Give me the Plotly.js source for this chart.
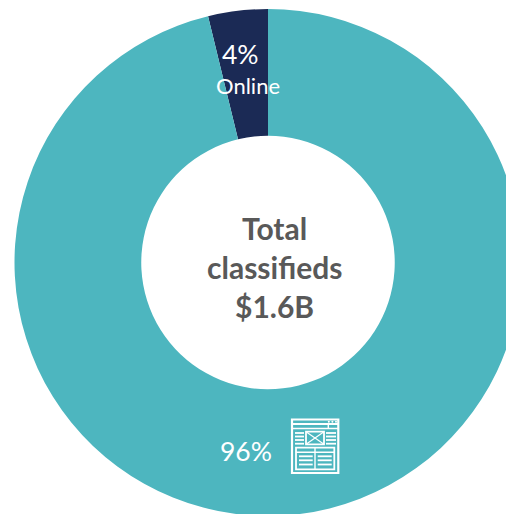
<!DOCTYPE html>
<html>
<head>
<meta charset="utf-8">
<script src="https://cdn.plot.ly/plotly-3.0.1.min.js"></script>
<style>html,body{margin:0;padding:0;width:506px;height:514px;overflow:hidden;background:#fff}</style>
</head>
<body>
<div id="chart"></div>
<script>
var categories = ["Online", "Print"];
var shares = [3.8, 96.2];
var sliceColors = ["#1B2A55", "#4DB6BF"];
var centerLines = ["Total", "classifieds", "$1.6B"];

var W = 536, H = 526;
var cx = 268, cy = 262.5, R = 253.5;
function px(x){ return x / W; }
function py(y){ return 1 - y / H; }
function line(x0, y0, x1, y1, w){
  return {type:"line", xref:"paper", yref:"paper", x0:px(x0), y0:py(y0), x1:px(x1), y1:py(y1),
          line:{color:"#fff", width:w || 1.8}};
}
function rect(x0, y0, x1, y1, w){
  return {type:"rect", xref:"paper", yref:"paper", x0:px(x0), y0:py(y0), x1:px(x1), y1:py(y1),
          line:{color:"#fff", width:w || 1.8}};
}
function dot(x, y){
  return {type:"circle", xref:"paper", yref:"paper", x0:px(x-1), y0:py(y-1), x1:px(x+1), y1:py(y+1),
          fillcolor:"#fff", line:{width:0}};
}
var icon = [
  rect(292, 419.5, 338.3, 473, 2.2),
  line(292, 424, 338.3, 424, 1.8),
  line(292, 428.5, 338.3, 428.5, 1.4),
  line(328.3, 424, 328.3, 428.5, 1.4),
  dot(328.8, 421.7), dot(332.4, 421.7), dot(336, 421.7),
  rect(306, 431.7, 324, 444.3, 1.8),
  line(306, 431.7, 324, 444.3, 1.2), line(324, 431.7, 306, 444.3, 1.2),
  line(295, 433, 304, 433), line(295, 436.5, 304, 436.5), line(295, 440, 304, 440), line(295, 443.7, 304, 443.7),
  line(326, 433, 336, 433), line(326, 436.5, 336, 436.5), line(326, 440, 336, 440), line(326, 443.7, 336, 443.7),
  rect(296, 447.7, 334.3, 469.3, 1.8),
  line(296, 452.3, 334.3, 452.3, 1.4),
  line(315, 447.7, 315, 469.3, 1.4),
  line(299, 456.3, 312.7, 456.3), line(299, 460.3, 312.7, 460.3), line(299, 464.5, 312.7, 464.5),
  line(317.7, 456.3, 331.7, 456.3), line(317.7, 460.3, 331.7, 460.3), line(317.7, 464.5, 331.7, 464.5)
];

function note(text, x, y, size, color, bold){
  return {text: bold ? "<b>" + text + "</b>" : text, xref:"paper", yref:"paper", x:px(x), y:py(y),
          xanchor:"center", yanchor:"middle", showarrow:false,
          font:{family:"Lato, 'Open Sans', sans-serif", size:size, color:color}};
}
var notes = [
  note(Math.round(shares[0]) + "%", 240, 54, 26.5, "#fff"),
  note(categories[0], 247.5, 86, 22, "#fff"),
  note(Math.round(shares[1]) + "%", 245.5, 451, 26.5, "#fff"),
  note(centerLines[0], 274.5, 228, 30, "#595959", true),
  note(centerLines[1], 274.5, 266.5, 30, "#595959", true),
  note(centerLines[2], 274.5, 305.5, 30, "#595959", true)
];

Plotly.newPlot("chart", [{
  type:"pie", labels:categories, values:shares, hole:0.5, sort:false,
  direction:"clockwise", rotation:-shares[0] * 3.6, textinfo:"none", hoverinfo:"label+percent",
  marker:{colors:sliceColors, line:{width:0}},
  domain:{x:[(cx-R)/W,(cx+R)/W], y:[1-(cy+R)/H,1-(cy-R)/H]}
}], {
  width:W, height:H, margin:{l:0,r:0,t:0,b:0}, showlegend:false,
  paper_bgcolor:"#fff", annotations:notes, shapes:icon
}, {displayModeBar:false, staticPlot:true});
</script>
</body>
</html>
